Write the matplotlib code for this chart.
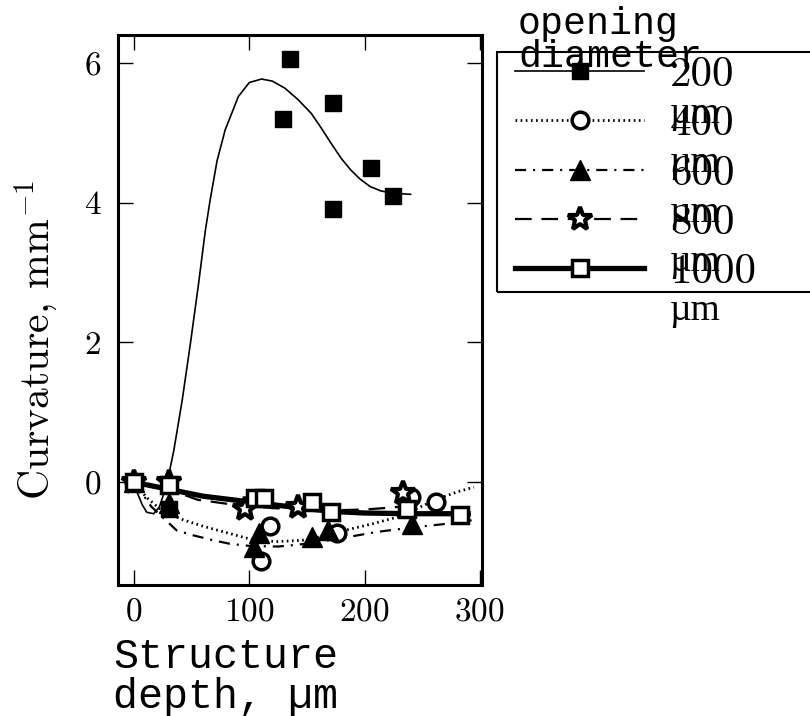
import matplotlib
matplotlib.use("Agg")
import matplotlib.pyplot as plt
from matplotlib.lines import Line2D
from matplotlib.patches import Rectangle

# opening diameters (legend labels)
diameters = ["200", "400", "600", "800", "1000"]

depth_200 = [0, 30, 129, 135, 173, 173, 206, 225]
curv_200 = [0, -0.38, 5.20, 6.06, 5.43, 3.91, 4.49, 4.10]
depth_400 = [0, 110, 118, 176, 240, 262]
curv_400 = [0, -1.12, -0.62, -0.73, -0.21, -0.28]
depth_600 = [0, 30, 104, 108, 154, 168, 241]
curv_600 = [0, -0.30, -0.93, -0.72, -0.78, -0.69, -0.60]
depth_800 = [0, 30, 96, 142, 233]
curv_800 = [0, 0.0, -0.38, -0.35, -0.16]
depth_1000 = [0, 30, 105, 113, 154, 171, 237, 283]
curv_1000 = [0, -0.04, -0.23, -0.23, -0.28, -0.43, -0.38, -0.47]

# fitted curves
fit_depth_200 = [0, 3, 7, 11, 17, 22, 26, 29, 34.5, 41.7, 48.9, 56, 61.8, 66,
                 72, 79, 90.5, 100, 110.6, 120, 130.8, 142, 153.7, 162, 171,
                 180, 188, 196, 205, 214, 222.6, 240]
fit_curv_200 = [0, -0.16, -0.32, -0.43, -0.45, -0.35, -0.15, 0.02, 0.46, 1.17,
                1.99, 2.85, 3.60, 4.04, 4.60, 5.04, 5.52, 5.72, 5.77, 5.74,
                5.64, 5.48, 5.28, 5.08, 4.85, 4.63, 4.47, 4.34, 4.23, 4.17,
                4.14, 4.12]
fit_depth_400 = [0, 11, 25, 43, 60, 80, 100, 123, 146, 165, 185, 208, 228,
                 245, 262, 280, 295]
fit_curv_400 = [0, -0.22, -0.42, -0.54, -0.63, -0.72, -0.81, -0.85, -0.83,
                -0.77, -0.68, -0.59, -0.50, -0.38, -0.25, -0.14, -0.07]
fit_depth_600 = [0, 15, 37, 51.5, 68.7, 83, 100, 125, 150, 180, 211, 240, 268,
                 295]
fit_curv_600 = [0, -0.35, -0.69, -0.76, -0.83, -0.88, -0.91, -0.92, -0.88,
                -0.80, -0.71, -0.65, -0.60, -0.54]
fit_depth_800 = [0, 30, 55, 86, 120, 150, 175, 200, 225, 240]
fit_curv_800 = [0, -0.10, -0.25, -0.32, -0.37, -0.39, -0.40, -0.39, -0.36,
                 -0.33]
fit_depth_1000 = [0, 30, 60, 100, 150, 175, 200, 240, 290]
fit_curv_1000 = [0, -0.10, -0.20, -0.28, -0.38, -0.42, -0.44, -0.45, -0.45]

points = [(depth_200, curv_200), (depth_400, curv_400), (depth_600, curv_600),
          (depth_800, curv_800), (depth_1000, curv_1000)]
fits = [(fit_depth_200, fit_curv_200), (fit_depth_400, fit_curv_400),
        (fit_depth_600, fit_curv_600), (fit_depth_800, fit_curv_800),
        (fit_depth_1000, fit_curv_1000)]

line_styles = [
    dict(ls="-", lw=1.2),
    dict(ls=(0, (1.2, 2.5)), lw=2),
    dict(ls=(0, (8, 5, 1.5, 5)), lw=1.6),
    dict(ls=(0, (12, 7)), lw=1.6),
    dict(ls="-", lw=3.8),
]
marker_styles = [
    dict(marker="s", ms=12, mfc="k", mew=1),
    dict(marker="o", ms=12, mfc="w", mew=2.5),
    dict(marker="^", ms=14, mfc="k", mew=1),
    dict(marker="*", ms=18, mfc="w", mew=3),
    dict(marker="s", ms=12, mfc="w", mew=2.5),
]

plt.rcParams["font.family"] = "cmr10"
plt.rcParams["mathtext.fontset"] = "cm"
plt.rcParams["axes.formatter.use_mathtext"] = True
plt.rcParams["lines.scale_dashes"] = False

fig = plt.figure(figsize=(8.1, 7.16), dpi=100)
ax = fig.add_axes([118 / 810, 1 - 585 / 716, 364 / 810, 550 / 716])

for (fx, fy), ls in zip(fits, line_styles):
    ax.plot(fx, fy, color="k", **ls)
for (x, y), ms in zip(points, marker_styles):
    ax.plot(x, y, ls="none", color="k", mec="k", **ms)

ax.set_xlim(-14, 302)
ax.set_ylim(-1.47, 6.4)
ax.set_xticks([0, 100, 200, 300])
ax.set_yticks([0, 2, 4, 6])
ax.tick_params(direction="in", length=11, width=1, labelsize=24,
               top=True, right=True)
ax.tick_params(axis="x", pad=9)
ax.tick_params(axis="y", pad=12)
for s in ax.spines.values():
    s.set_linewidth(2.2)

ax.set_ylabel("Curvature, mm$^{-1}$", fontsize=30)
ax.yaxis.set_label_coords(-0.16, 0.445)
ax.set_xlabel("Structure\ndepth, µm", family="Liberation Mono", fontsize=30,
              ha="left", va="top", linespacing=1.0)
ax.xaxis.set_label_coords(-0.014, -0.095)

# legend box: its frame is drawn separately, wider than the figure
fig.add_artist(Rectangle((497 / 810, 1 - 292 / 716), 400 / 810, 240 / 716,
                         transform=fig.transFigure, fill=False, lw=1.5,
                         ec="k", zorder=4))
handles = [Line2D([], [], color="k", mec="k", **ls, **ms)
           for ls, ms in zip(line_styles, marker_styles)]
leg = fig.legend(handles, diameters, loc="upper left",
                 bbox_to_anchor=(515 / 810, 1 - 56 / 716),
                 borderaxespad=0, borderpad=0, numpoints=1, frameon=False,
                 prop={"family": "cmr10", "size": 31},
                 handlelength=3.0, handletextpad=0.6, labelspacing=0.26)

fig.text(518 / 810, 1 - 6 / 716, "opening\ndiameter", family="Liberation Mono",
         fontsize=27.5, ha="left", va="top", linespacing=0.9, zorder=6)

# the unit of each label spills onto a second line below the number
fig.canvas.draw()
renderer = fig.canvas.get_renderer()
for t in leg.get_texts():
    bb = t.get_window_extent(renderer)
    fig.text(bb.x0 / 810, (bb.y0 - 29) / 716, "µm", family="Liberation Serif",
             fontsize=27, ha="left", va="baseline", zorder=6)

fig.savefig("out.png", dpi=100)
